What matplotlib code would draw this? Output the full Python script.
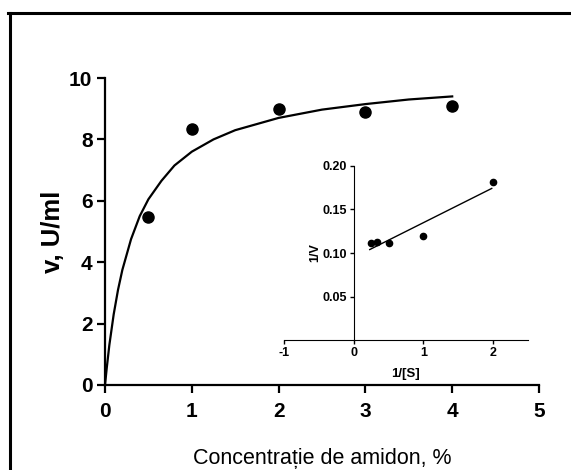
import numpy as np
import matplotlib.pyplot as plt
from matplotlib.lines import Line2D

plt.rcParams['font.family'] = ['Liberation Sans', 'DejaVu Sans']
plt.rcParams['axes.unicode_minus'] = False

# date experimentale
conc = [0.5, 1, 2, 3, 4]
viteza = [5.48, 8.34, 8.98, 8.89, 9.09]

# curba Michaelis-Menten
curba_x = [0, 0.02, 0.05, 0.1, 0.15, 0.2, 0.3, 0.4, 0.5, 0.65, 0.8, 1.0, 1.25, 1.5, 2.0, 2.5, 3.0, 3.5, 4.0]
curba_y = [0, 0.55, 1.3, 2.3, 3.1, 3.75, 4.75, 5.5, 6.05, 6.65, 7.15, 7.6, 8.0, 8.3, 8.7, 8.97, 9.15, 9.3, 9.4]

# Lineweaver-Burk
inv_s = [0.25, 0.333, 0.5, 1, 2]
inv_v = [0.111, 0.113, 0.112, 0.120, 0.1816]
lb_x = [0.23, 1.98]
lb_y = [0.104, 0.174]

fig = plt.figure(figsize=(5.71, 4.70), dpi=100)

# chenarul din jur
fig.add_artist(Line2D([9.5 / 571, 9.5 / 571], [0, 1 - 12.5 / 470], transform=fig.transFigure,
                      color='black', lw=2.2))
fig.add_artist(Line2D([8 / 571, 1], [1 - 12.5 / 470, 1 - 12.5 / 470], transform=fig.transFigure,
                      color='black', lw=2.2))

ax = fig.add_axes([105 / 571, 85 / 470, 434 / 571, 307 / 470])
ax.plot(curba_x, curba_y, color='black', lw=1.6)
ax.plot(conc, viteza, 'o', color='black', ms=8)
ax.set_xlim(0, 5)
ax.set_ylim(0, 10)
ax.set_xticks([0, 1, 2, 3, 4, 5])
ax.set_yticks([0, 2, 4, 6, 8, 10])
for s in ['top', 'right']:
    ax.spines[s].set_visible(False)
for s in ['left', 'bottom']:
    ax.spines[s].set_linewidth(1.6)
ax.tick_params(width=1.6, length=6, labelsize=15, pad=3)
ax.tick_params(axis='x', pad=6)
for lab in ax.get_xticklabels() + ax.get_yticklabels():
    lab.set_fontweight('bold')
ax.set_xlabel('Concentrație de amidon, %', fontsize=15.5, labelpad=20)
ax.set_ylabel('v, U/ml', fontsize=18.5, fontweight='bold', labelpad=3)
ax.patch.set_alpha(0)

# graficul mic
ins = fig.add_axes([284 / 571, 129.6 / 470, 244 / 571, 174.7 / 470])
ins.plot(lb_x, lb_y, color='black', lw=1.0)
ins.plot(inv_s, inv_v, 'o', color='black', ms=4.5)
ins.set_xlim(-1, 2.5)
ins.set_ylim(0, 0.2)
ins.set_xticks([-1, 0, 1, 2])
ins.set_yticks([0.05, 0.10, 0.15, 0.20])
ins.set_yticklabels(['0.05', '0.10', '0.15', '0.20'])
ins.spines['left'].set_position(('data', 0))
for s in ['top', 'right']:
    ins.spines[s].set_visible(False)
ins.tick_params(width=1.0, length=3, labelsize=9, pad=2)
for lab in ins.get_xticklabels() + ins.get_yticklabels():
    lab.set_fontweight('bold')
ins.set_xlabel('1/[S]', fontsize=9.5, fontweight='bold', labelpad=6)
ins.set_ylabel('1/V', fontsize=9, fontweight='bold')
ins.yaxis.set_label_coords(0.152, 0.5)
ins.patch.set_alpha(0)

fig.savefig('out.png', dpi=100)
